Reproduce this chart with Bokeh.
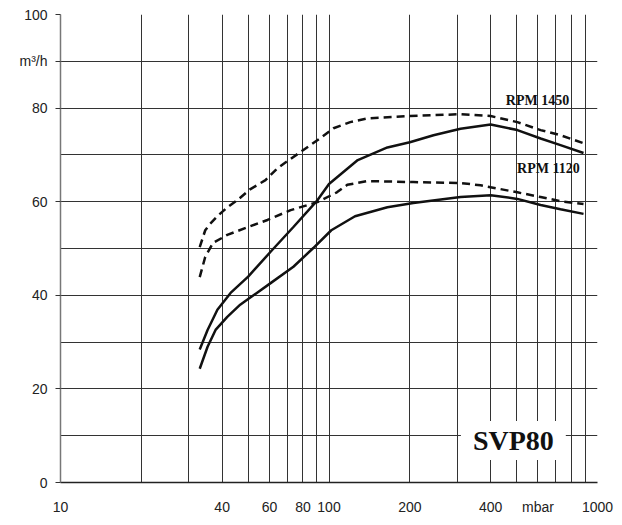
from bokeh.plotting import figure
from bokeh.models import Range1d, FixedTicker, Label
from bokeh.embed import file_html
from bokeh.resources import INLINE

# ---- data ----
x_solid_1450 = [33, 35.3, 38.4, 43, 50, 60.6, 73.7, 90.5, 100, 128, 165, 200, 245, 309, 400, 503, 614, 728, 887]
y_solid_1450 = [28.4, 32.6, 36.9, 40.5, 44.0, 49.3, 54.6, 60.3, 63.8, 68.9, 71.6, 72.7, 74.2, 75.6, 76.5, 75.3, 73.5, 72.1, 70.4]

x_solid_1120 = [33, 35.3, 37.8, 41.8, 46.7, 50, 60.6, 73.7, 87.4, 102, 125, 165, 206, 309, 400, 503, 614, 728, 887]
y_solid_1120 = [24.3, 29.0, 32.6, 35.4, 38.0, 39.2, 42.6, 46.1, 50.1, 53.9, 56.9, 58.8, 59.7, 61.0, 61.4, 60.6, 59.3, 58.4, 57.4]

x_dash_1450 = [33, 34.6, 36, 38.4, 41.8, 45.5, 51, 58, 64.4, 80, 93, 104, 120, 139, 200, 309, 400, 503, 614, 728, 887]
y_dash_1450 = [50.3, 53.9, 55.2, 56.9, 58.8, 60.3, 62.7, 64.6, 67.2, 71.0, 73.6, 75.7, 77.0, 77.8, 78.3, 78.7, 78.3, 77.0, 75.3, 74.2, 72.5]

x_dash_1120 = [33, 34.6, 37, 41.8, 50, 59, 72, 90.5, 107, 117, 139, 206, 309, 367, 503, 614, 728, 887]
y_dash_1120 = [43.9, 48.2, 51.2, 52.9, 54.6, 56.1, 58.2, 59.9, 62.0, 63.6, 64.4, 64.2, 64.0, 63.5, 62.0, 61.0, 60.1, 59.5]

x_tick_values = [10, 40, 60, 80, 100, 200, 400, 600, 1000]
x_tick_labels = ["10", "40", "60", "80", "100", "200", "400", "mbar", "1000"]
x_grid_values = [10, 20, 30, 40, 50, 60, 70, 80, 90, 100, 200, 300, 400, 500, 600, 700, 800, 900, 1000]

y_tick_values = [0, 20, 40, 60, 80, 90, 100]
y_tick_labels = ["0", "20", "40", "60", "80", "m³/h", "100"]
y_grid_values = [0, 10, 20, 30, 40, 50, 60, 70, 80, 90, 100]

p = figure(width=614, height=517, x_axis_type="log",
           x_range=Range1d(10, 1000), y_range=Range1d(0, 100),
           output_backend="svg", toolbar_location=None,
           min_border_left=60, min_border_right=17, min_border_top=14, min_border_bottom=34)
p.outline_line_color = None
p.background_fill_color = "white"

# grids
p.xgrid.ticker = FixedTicker(ticks=x_grid_values)
p.ygrid.ticker = FixedTicker(ticks=y_grid_values)
for g in (p.xgrid, p.ygrid):
    g.grid_line_color = "#333333"
    g.grid_line_width = 1
    g.grid_line_alpha = 1
p.xgrid.minor_grid_line_color = None

# axes
p.xaxis.ticker = FixedTicker(ticks=x_tick_values)
p.xaxis.major_label_overrides = {v: t for v, t in zip(x_tick_values, x_tick_labels)}
p.xaxis.major_tick_out = 0
p.xaxis.major_tick_in = 0
p.xaxis.minor_tick_out = 0
p.xaxis.minor_tick_in = 0
p.xaxis.major_label_standoff = 16
p.xaxis.axis_line_color = "#222222"
p.xaxis.axis_line_width = 1.5

p.yaxis.ticker = FixedTicker(ticks=y_tick_values)
p.yaxis.major_label_overrides = {v: t for v, t in zip(y_tick_values, y_tick_labels)}
p.yaxis.major_tick_out = 5
p.yaxis.major_tick_in = 0
p.yaxis.minor_tick_out = 0
p.yaxis.minor_tick_in = 0
p.yaxis.major_label_standoff = 8
p.yaxis.axis_line_color = "#777777"
p.yaxis.axis_line_width = 1.5
p.yaxis.major_tick_line_color = "#333333"

for ax in (p.xaxis, p.yaxis):
    ax.major_label_text_font = "Liberation Sans"
    ax.major_label_text_font_size = "14px"
    ax.major_label_text_color = "#222222"

# curves
lw = 2.5
col = "#111111"
p.line(x_solid_1450, y_solid_1450, line_width=lw, line_color=col)
p.line(x_solid_1120, y_solid_1120, line_width=lw, line_color=col)
p.line(x_dash_1450, y_dash_1450, line_width=lw, line_color=col, line_dash="8 5")
p.line(x_dash_1120, y_dash_1120, line_width=lw, line_color=col, line_dash="8 5")

# annotations
for txt, xx, yy in (("RPM 1450", 598, 81.7), ("RPM 1120", 656, 67.2)):
    p.add_layout(Label(x=xx, y=yy, text=txt, text_align="center", text_baseline="middle",
                       text_font="Liberation Serif", text_font_style="bold",
                       text_font_size="14px", text_color="#111111"))

p.add_layout(Label(x=486, y=9, text="SVP80", text_align="center", text_baseline="middle",
                   text_font="Liberation Serif", text_font_style="bold",
                   text_font_size="28px", text_color="#111111",
                   background_fill_color="white", padding=(12, 4)))

open("out.html", "w").write(file_html(p, INLINE))
